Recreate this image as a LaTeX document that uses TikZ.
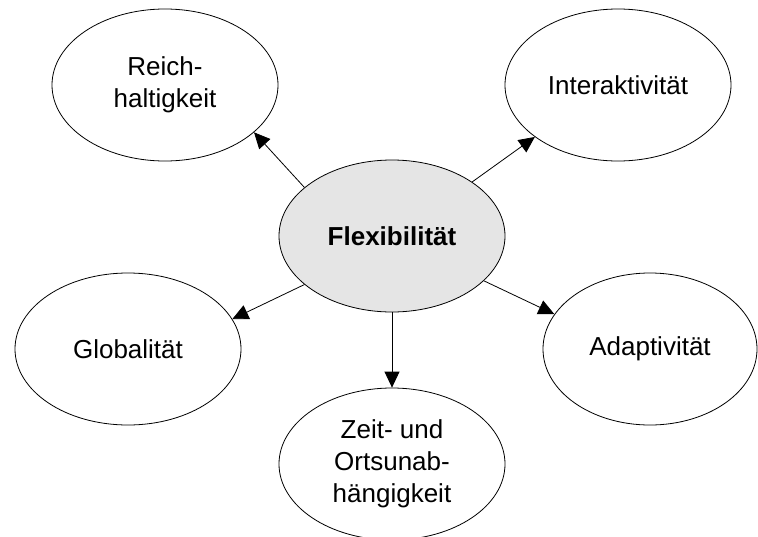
\documentclass[tikz,border=0pt]{standalone}
\usepackage{fontspec}
\setmainfont{Liberation Sans}
\usetikzlibrary{shapes.geometric}
\usetikzlibrary{positioning}
\usetikzlibrary{arrows.meta}
\tikzset{topic/.style={draw,ellipse,line width=0.8pt,minimum width=226pt,minimum height=152pt,inner sep=0pt,align=center,font=\fontsize{26}{32}\selectfont},
pfeil/.style={-{Triangle[length=16pt,width=15pt]},line width=0.8pt}}

\begin{document}
\begin{tikzpicture}[x=1pt,y=-1pt]
\useasboundingbox (0,0) rectangle (758,536);
\node[topic,fill=black!10,font=\fontsize{26}{32}\selectfont\bfseries] (flex) at (392,236) {Flexibilität};
\node[topic] (reich) at (165,85) {Reich-\\haltigkeit};
\node[topic] (inter) at (618,85) {Interaktivität};
\node[topic] (glob) at (128,349) {Globalität};
\node[topic,minimum width=214pt] (adapt) at (650,349) {Adaptivität};
\node[topic] (zeit) at (392,464) {Zeit- und\\Ortsunab-\\hängigkeit};
\draw[pfeil] (flex.151) -- (reich.-28);
\draw[pfeil] (flex.34) -- (inter.-148);
\draw[pfeil] (flex.209) -- (glob.16);
\draw[pfeil] (flex.-26) -- (adapt.160);
\draw[pfeil] (flex.south) -- (zeit.north);
\end{tikzpicture}
\end{document}
